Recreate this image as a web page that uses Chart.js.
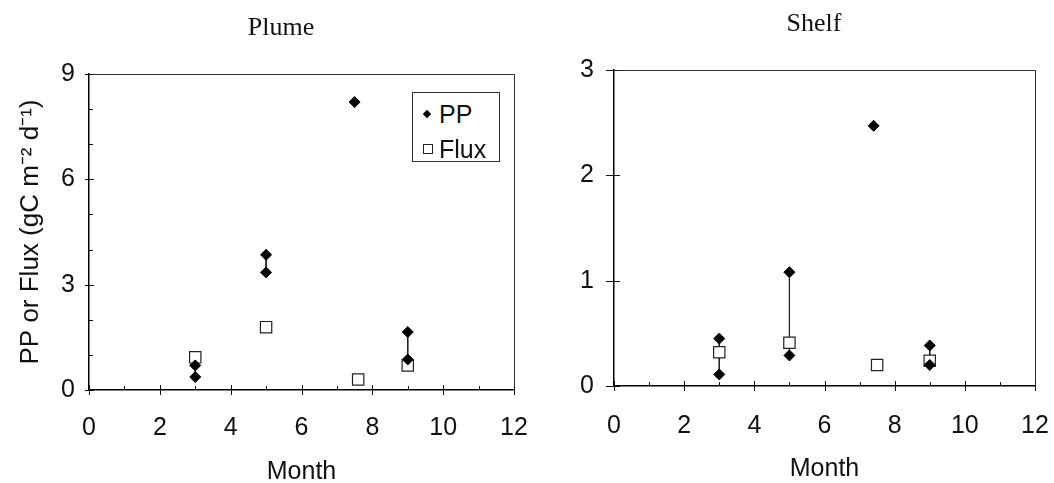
<!DOCTYPE html>
<html>
<head>
<meta charset="utf-8">
<script src="https://cdn.jsdelivr.net/npm/chart.js@4"></script>
<style>
  body { margin: 0; background: #fff; }
  #wrap { position: relative; width: 1054px; height: 483px; overflow: hidden; }
  .panel { position: absolute; top: 0; height: 483px; }
  .title { position: absolute; font-family: "Liberation Serif", serif; font-size: 26px; color: #111;
           transform: translate(-50%, -50%); white-space: nowrap; }
  #legend { position: absolute; left: 412px; top: 92px; width: 88px; height: 70px;
            border: 1px solid #333; background: #fff; font-family: "Liberation Sans", Arial, sans-serif;
            font-size: 25px; color: #111; box-sizing: border-box; }
  #legend .row { position: absolute; left: 26px; transform: translateY(-50%); line-height: 1; }
  #legend .dia { position: absolute; left: 11px; width: 6px; height: 6px; background: #000;
                 transform: translateY(-50%) rotate(45deg); }
  #legend .sq { position: absolute; left: 10px; width: 8px; height: 8px; border: 1px solid #222;
                background: #fff; transform: translateY(-50%); }
</style>
</head>
<body>
<div id="wrap">
  <div class="panel" style="left:0;width:530px"><canvas id="plumeChart"></canvas></div>
  <div class="panel" style="left:530px;width:524px"><canvas id="shelfChart"></canvas></div>
  <div class="title" style="left:281px;top:27px">Plume</div>
  <div class="title" style="left:814px;top:23px">Shelf</div>
  <div id="legend">
    <span class="dia" style="top:21px"></span><span class="row" style="top:21px">PP</span>
    <span class="sq" style="top:56px"></span><span class="row" style="top:56px">Flux</span>
  </div>
</div>
<script>
// Plume station: primary production (two estimates per cruise) and particle flux
const plumePPMonths = [3, 5, 7.5, 9];
const plumePPHigh = [0.70, 3.85, 8.2, 1.65];
const plumePPLow = [0.37, 3.35, null, 0.87];
const plumeFluxMonths = [3, 5, 7.6, 9];
const plumeFlux = [0.93, 1.79, 0.30, 0.70];

// Shelf station
const shelfPPMonths = [3, 5, 7.4, 9];
const shelfPPHigh = [0.45, 1.08, 2.47, 0.385];
const shelfPPLow = [0.11, 0.29, null, 0.20];
const shelfFluxMonths = [3, 5, 7.5, 9];
const shelfFlux = [0.32, 0.41, 0.20, 0.24];

const monthTicks = [0, 2, 4, 6, 8, 10, 12];
const plumeYTicks = [0, 3, 6, 9];
const shelfYTicks = [0, 1, 2, 3];

const sans = 'Liberation Sans, Arial, sans-serif';

function ppPoints(months, high, low) {
  const pts = [];
  months.forEach((m, i) => {
    pts.push({ x: m, y: high[i] });
    if (low[i] !== null) pts.push({ x: m, y: low[i] });
  });
  return pts;
}

// vertical bars joining the two PP estimates of the same month
function rangeLines(months, high, low) {
  const pts = [];
  months.forEach((m, i) => {
    if (low[i] === null) return;
    pts.push({ x: m, y: high[i] }, { x: m, y: low[i] }, { x: m, y: null });
  });
  return pts;
}

// box round the plot plus tick marks crossing the axes
const frameAndTicks = {
  id: 'frameAndTicks',
  afterDatasetsDraw(chart, args, opts) {
    const { ctx, chartArea: a, scales } = chart;
    ctx.save();
    ctx.strokeStyle = '#333';
    ctx.lineWidth = 1;
    ctx.beginPath();
    ctx.moveTo(a.left, a.top + 0.5);
    ctx.lineTo(a.right + 0.5, a.top + 0.5);
    ctx.lineTo(a.right + 0.5, a.bottom);
    ctx.stroke();

    ctx.strokeStyle = '#111';
    ctx.beginPath();
    scales.x.ticks.forEach((t, i) => {
      const px = Math.round(scales.x.getPixelForTick(i)) + 0.5;
      const major = monthTicks.includes(t.value);
      ctx.moveTo(px, a.bottom + (major ? 5 : 0));
      ctx.lineTo(px, a.bottom - (major ? 5 : 4));
    });
    scales.y.ticks.forEach((t, i) => {
      const py = Math.round(scales.y.getPixelForTick(i)) + 0.5;
      const major = opts.yMajor.includes(t.value);
      ctx.moveTo(a.left - (major ? opts.yOut : 0), py);
      ctx.lineTo(a.left + (major ? opts.yIn : 4), py);
    });
    ctx.stroke();
    ctx.restore();
  }
};

function makeChart(id, cfg) {
  const ctx = document.getElementById(id).getContext('2d');
  return new Chart(ctx, {
    data: {
      datasets: [{
        type: 'scatter',
        label: 'PP',
        data: ppPoints(cfg.ppMonths, cfg.ppHigh, cfg.ppLow),
        pointStyle: 'rectRot',
        pointRadius: 5.5,
        backgroundColor: '#000',
        borderColor: '#000',
        borderWidth: 1,
        order: 1
      }, {
        type: 'scatter',
        label: 'Flux',
        data: cfg.fluxMonths.map((m, i) => ({ x: m, y: cfg.flux[i] })),
        pointStyle: 'rect',
        pointRadius: 8,
        backgroundColor: '#fff',
        borderColor: '#222',
        borderWidth: 1.2,
        order: 2
      }, {
        type: 'line',
        label: 'range',
        data: rangeLines(cfg.ppMonths, cfg.ppHigh, cfg.ppLow),
        borderColor: '#222',
        borderWidth: 1,
        pointRadius: 0,
        spanGaps: false,
        order: 3
      }]
    },
    options: {
      responsive: true,
      maintainAspectRatio: false,
      animation: false,
      layout: { padding: cfg.padding },
      plugins: {
        legend: { display: false },
        tooltip: { enabled: false },
        frameAndTicks: { yMajor: cfg.yTicks, yOut: cfg.yOut, yIn: cfg.yIn }
      },
      scales: {
        x: {
          type: 'linear',
          min: 0, max: 12,
          grid: { display: false, drawTicks: false },
          border: { display: true, color: '#000', width: 1.5 },
          ticks: {
            stepSize: 1,
            padding: cfg.xLabelPad,
            color: '#111',
            font: { family: sans, size: 25, lineHeight: 1 },
            maxRotation: 0,
            autoSkip: false,
            callback: v => monthTicks.includes(v) ? String(v) : ''
          },
          title: {
            display: true,
            text: 'Month',
            color: '#111',
            font: { family: sans, size: 25, lineHeight: 1 },
            padding: { top: 0, bottom: cfg.monthPad }
          },
          afterFit: s => {
            s.height = cfg.xHeight;
            s.paddingLeft = 0;
            s.paddingRight = 0;
          }
        },
        y: {
          min: 0, max: cfg.yMax,
          grid: { display: false, drawTicks: false },
          border: { display: true, color: '#000', width: 1.5 },
          ticks: {
            stepSize: 1,
            padding: cfg.yLabelPad,
            color: '#111',
            font: { family: sans, size: 25, lineHeight: 1 },
            autoSkip: false,
            callback: v => cfg.yTicks.includes(v) ? String(v) : ''
          },
          title: {
            display: !!cfg.yTitle,
            text: cfg.yTitle || '',
            color: '#111',
            font: { family: sans, size: 26, lineHeight: 1 },
            padding: { top: 18, bottom: 0 }
          },
          afterFit: s => {
            s.width = cfg.yWidth;
            s.paddingTop = 0;
            s.paddingBottom = 0;
          }
        }
      }
    },
    plugins: [frameAndTicks]
  });
}

makeChart('plumeChart', {
  ppMonths: plumePPMonths, ppHigh: plumePPHigh, ppLow: plumePPLow,
  fluxMonths: plumeFluxMonths, flux: plumeFlux,
  yMax: 9, yTicks: plumeYTicks, yOut: 4, yIn: 5,
  yTitle: 'PP or Flux (gC m\u207B\u00B2 d\u207B\u00B9)',
  padding: { top: 74, right: 16, bottom: 0, left: 0 },
  yWidth: 89, xHeight: 93, xLabelPad: 26, yLabelPad: 14, monthPad: -2
});

makeChart('shelfChart', {
  ppMonths: shelfPPMonths, ppHigh: shelfPPHigh, ppLow: shelfPPLow,
  fluxMonths: shelfFluxMonths, flux: shelfFlux,
  yMax: 3, yTicks: shelfYTicks, yOut: 8, yIn: 6,
  yTitle: null,
  padding: { top: 70, right: 19, bottom: 0, left: 0 },
  yWidth: 84, xHeight: 97, xLabelPad: 28, yLabelPad: 20, monthPad: 1
});
</script>
</body>
</html>
